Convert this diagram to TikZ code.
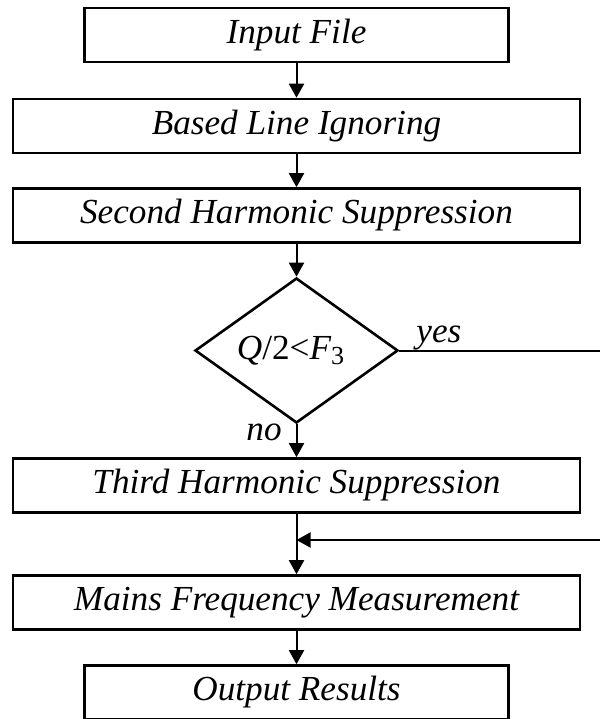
\documentclass[tikz,border=0pt]{standalone}
\usepackage{fontspec}
\setmainfont{Liberation Serif}
\usetikzlibrary{shapes.geometric,arrows.meta}
\tikzset{
  boxbase/.style={draw, line width=1.3pt, inner sep=0pt, minimum height=27pt, align=center},
  widebox/.style={boxbase, minimum width=283.5pt},
  narrowbox/.style={boxbase, minimum width=212pt},
  decision/.style={draw, diamond, line width=1.3pt, inner sep=0pt, minimum width=101.5pt, minimum height=72.5pt},
  conn/.style={line width=1pt},
  arr/.style={conn, -{Triangle[length=7pt,width=7.5pt]}},
  lbl/.style={inner sep=0pt}
}
\begin{document}
\begin{tikzpicture}[x=0.5pt,y=-0.5pt,font=\fontsize{17.6}{20}\selectfont\itshape]
\useasboundingbox (0,0) rectangle (600,719);
\node[narrowbox] (in) at (296.5,35) {Input File};
\node[widebox] (bl) at (296.5,126) {Based Line Ignoring};
\node[widebox] (sh) at (296.5,215.5) {Second Harmonic Suppression};
\node[decision] (q) at (296.5,350.5) {\hspace*{-6pt}Q{\upshape/2<}F\raisebox{-0.35ex}{\upshape\fontsize{13}{14}\selectfont 3}};
\node[widebox] (th) at (296.5,485.5) {Third Harmonic Suppression};
\node[widebox] (mf) at (296.5,602.5) {Mains Frequency Measurement};
\node[narrowbox] (out) at (296.5,692.5) {Output Results};
\coordinate (yesend) at (600,350.5);
\coordinate (fbstart) at (600,540);
\coordinate (join) at (296.5,540);
\node[lbl, anchor=base west] (yes) at (416,342) {yes};
\node[lbl, anchor=base west] (no) at (246,440) {no};
\draw[arr] (in) -- (bl);
\draw[arr] (bl) -- (sh);
\draw[arr] (sh) -- (q);
\draw[arr] (q) -- (th);
\draw[conn] (q.east) -- (yesend);
\draw[arr] (fbstart) -- (join);
\draw[arr] (th) -- (mf);
\draw[arr] (mf) -- (out);
\end{tikzpicture}
\end{document}
